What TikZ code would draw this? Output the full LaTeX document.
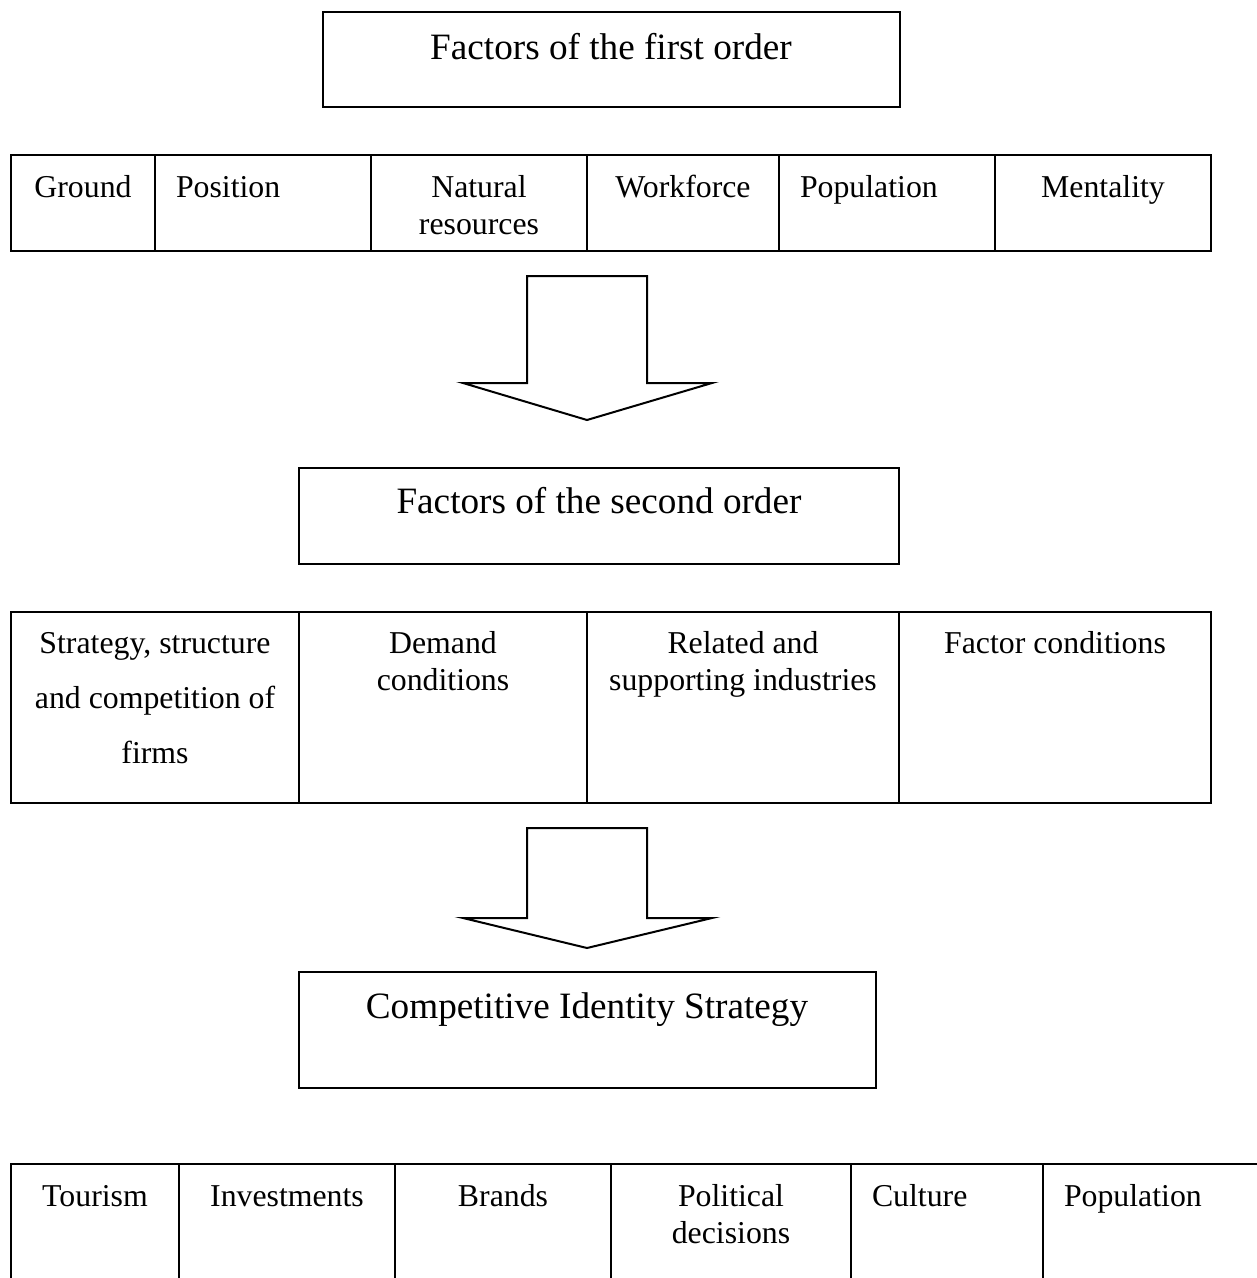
\documentclass[tikz,border=0pt]{standalone}
\usepackage{fontspec}
\setmainfont{Liberation Serif}
\begin{document}
\begin{tikzpicture}[x=1pt,y=-1pt,
  frame/.style={draw=black,line width=2pt,inner sep=0pt,outer sep=0pt,rectangle},
  body/.style={inner sep=0pt,outer sep=0pt,font=\fontsize{31.8}{37}\selectfont,align=center},
  head/.style={inner sep=0pt,outer sep=0pt,font=\fontsize{37.2}{43}\selectfont},
  blockarrow/.style={draw=black,line width=2pt,fill=white,line join=miter}]
\useasboundingbox (0,0) rectangle (1257,1278);

% box from its corners: name, x1, y1, x2, y2
\newcommand\mkbox[5]{\node[frame,minimum width={#4-#2},minimum height={#5-#3}] (#1) at ({(#2+#4)/2},{(#3+#5)/2}) {};}
% hollow down arrow: name, centre x, top, shoulder, tip
\newcommand\mkarrow[5]{\coordinate (#1) at (#2,#3);
  \draw[blockarrow] ([xshift=-60pt]#1) -- ([xshift=60pt]#1) -- (#2+60,#4) -- (#2+125,#4)
    -- (#2,#5) -- (#2-124,#4) -- (#2-60,#4) -- cycle;}

% first order
\mkbox{h1}{323}{12}{900}{107}
\node[head,anchor=base] (h1t) at (611,59) {Factors of the first order};

\mkbox{r1a}{11}{155}{155}{251}
\mkbox{r1b}{155}{155}{371}{251}
\mkbox{r1c}{371}{155}{587}{251}
\mkbox{r1d}{587}{155}{779}{251}
\mkbox{r1e}{779}{155}{995}{251}
\mkbox{r1f}{995}{155}{1211}{251}
% multi-line texts are placed by the baseline of their last line
\node[body,anchor=base] (t1a) at (83,197) {Ground};
\node[body,anchor=base west] (t1b) at (176,197) {Position};
\node[body,anchor=base] (t1c) at (479,234) {Natural\\resources};
\node[body,anchor=base] (t1d) at (683,197) {Workforce};
\node[body,anchor=base west] (t1e) at (800,197) {Population};
\node[body,anchor=base] (t1f) at (1103,197) {Mentality};

\mkarrow{a1}{587}{276}{383}{420}

% second order
\mkbox{h2}{299}{468}{899}{564}
\node[head,anchor=base] (h2t) at (599,513) {Factors of the second order};

\mkbox{r2a}{11}{612}{299}{803}
\mkbox{r2b}{299}{612}{587}{803}
\mkbox{r2c}{587}{612}{899}{803}
\mkbox{r2d}{899}{612}{1211}{803}
\node[body,anchor=base,font=\fontsize{31.8}{55}\selectfont] (t2a) at (155,763) {Strategy, structure\\and competition of\\firms};
\node[body,anchor=base] (t2b) at (443,690) {Demand\\conditions};
\node[body,anchor=base] (t2c) at (743,690) {Related and\\supporting industries};
\node[body,anchor=base] (t2d) at (1055,653) {Factor conditions};

\mkarrow{a2}{587}{828}{918}{948}

% strategy
\mkbox{h3}{299}{972}{876}{1088}
\node[head,anchor=base] (h3t) at (587,1018) {Competitive Identity Strategy};

\mkbox{r3a}{11}{1164}{179}{1300}
\mkbox{r3b}{179}{1164}{395}{1300}
\mkbox{r3c}{395}{1164}{611}{1300}
\mkbox{r3d}{611}{1164}{851}{1300}
\mkbox{r3e}{851}{1164}{1043}{1300}
\mkbox{r3f}{1043}{1164}{1300}{1300}
\node[body,anchor=base] (t3a) at (95,1206) {Tourism};
\node[body,anchor=base] (t3b) at (287,1206) {Investments};
\node[body,anchor=base] (t3c) at (503,1206) {Brands};
\node[body,anchor=base] (t3d) at (731,1243) {Political\\decisions};
\node[body,anchor=base west] (t3e) at (872,1206) {Culture};
\node[body,anchor=base west] (t3f) at (1064,1206) {Population};
\end{tikzpicture}
\end{document}
